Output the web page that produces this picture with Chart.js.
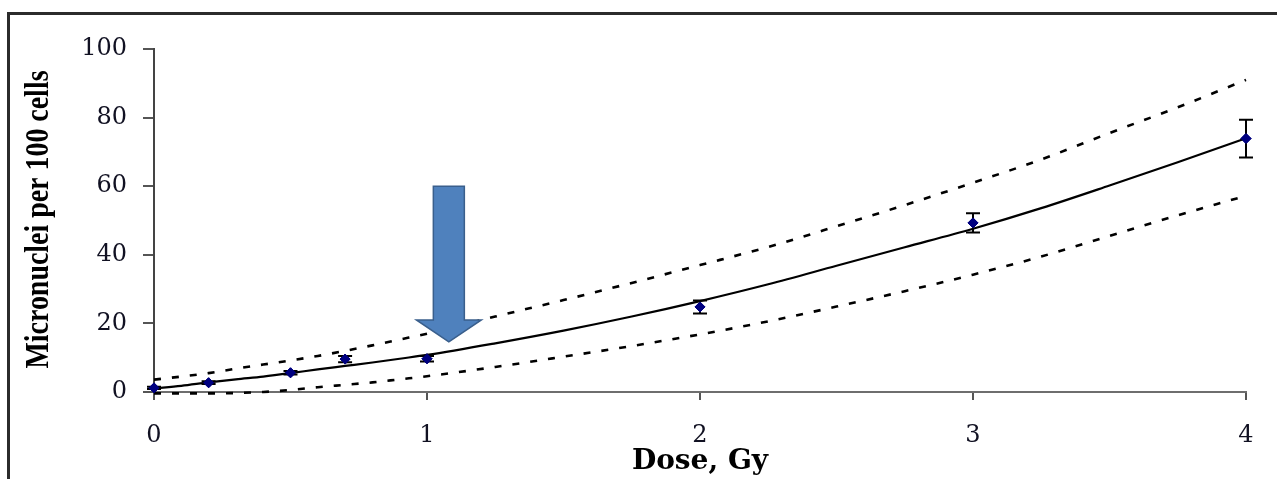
<!DOCTYPE html>
<html>
<head>
<meta charset="utf-8">
<script src="https://cdn.jsdelivr.net/npm/chart.js@4/dist/chart.umd.min.js"></script>
<style>
  html, body { margin: 0; padding: 0; background: #fff; }
  #wrap { width: 1277px; height: 479px; position: relative; }
</style>
</head>
<body>
<div id="wrap"><canvas id="c" width="1277" height="479"></canvas></div>
<script>
// Observed micronucleus yields (mean ± error) at each dose
const doses = [0, 0.2, 0.5, 0.7, 1, 2, 3, 4];
const yields = [1.2, 2.7, 5.6, 9.6, 9.7, 24.8, 49.3, 73.9];
const yieldErr = [0.3, 0.4, 0.5, 0.9, 0.8, 1.9, 2.8, 5.5];

// Fitted dose-response curve and its confidence band
const curveDose = [0, 0.1, 0.2, 0.3, 0.4, 0.5, 0.6, 0.7, 0.8, 0.9, 1.0, 1.25, 1.5, 1.75, 2.0, 2.25, 2.5, 2.75, 3.0, 3.25, 3.5, 3.75, 4.0];
const fitValues = [1.0, 1.8, 2.8, 3.7, 4.5, 5.5, 6.6, 7.6, 8.6, 9.7, 10.8, 14.2, 17.9, 22.0, 26.5, 31.4, 36.8, 42.2, 47.6, 53.6, 60.2, 67.0, 74.0];
const upperValues = [3.6, 4.5, 5.5, 6.8, 8.0, 9.2, 10.5, 12.0, 13.6, 15.3, 17.0, 22.0, 26.8, 31.8, 37.0, 42.3, 48.3, 54.5, 61.0, 67.8, 75.5, 83.0, 91.0];
const lowerValues = [-0.4, -0.4, -0.4, -0.3, 0.0, 0.6, 1.4, 2.1, 2.8, 3.7, 4.6, 7.3, 10.3, 13.4, 16.8, 20.6, 24.9, 29.4, 34.2, 39.5, 45.5, 51.5, 57.2];

// Axis ticks and titles
const xTicks = [0, 1, 2, 3, 4];
const yTicks = [0, 20, 40, 60, 80, 100];
const xTitle = 'Dose, Gy';
const yTitle = 'Micronuclei per 100 cells';

// Arrow marking the dose of interest
const arrowDose = 1.08;
const arrowTop = 60;
const arrowTip = 14.6;

const pts = (xs, ys) => xs.map((x, i) => ({ x: x, y: ys[i] }));

const framePlugin = {
  id: 'frame',
  beforeDraw(chart) {
    const ctx = chart.ctx;
    ctx.save();
    ctx.strokeStyle = '#2b2b2b';
    ctx.lineWidth = 3;
    ctx.beginPath();
    ctx.moveTo(8.5, 479);
    ctx.lineTo(8.5, 13.5);
    ctx.lineTo(1277, 13.5);
    ctx.stroke();
    ctx.restore();
  }
};

// Tall, narrow bold title along the value axis
const yTitlePlugin = {
  id: 'yTitle',
  afterDraw(chart) {
    const ctx = chart.ctx;
    const area = chart.chartArea;
    ctx.save();
    ctx.font = 'bold 33px "Liberation Serif"';
    const w = ctx.measureText(yTitle).width;
    const squeeze = 298 / w;
    ctx.translate(48, (area.top + area.bottom) / 2 - 1);
    ctx.rotate(-Math.PI / 2);
    ctx.scale(squeeze, 1);
    ctx.fillStyle = '#000';
    ctx.textAlign = 'center';
    ctx.textBaseline = 'alphabetic';
    ctx.fillText(yTitle, 0, 0);
    ctx.restore();
  }
};

const errorBarPlugin = {
  id: 'errorBars',
  afterDatasetsDraw(chart) {
    const ctx = chart.ctx;
    const xs = chart.scales.x, ys = chart.scales.y;
    ctx.save();
    ctx.strokeStyle = '#000';
    ctx.lineWidth = 2;
    doses.forEach((d, i) => {
      const px = xs.getPixelForValue(d);
      const top = ys.getPixelForValue(yields[i] + yieldErr[i]);
      const bot = ys.getPixelForValue(yields[i] - yieldErr[i]);
      ctx.beginPath();
      ctx.moveTo(px, top); ctx.lineTo(px, bot);
      ctx.moveTo(px - 7, top); ctx.lineTo(px + 7, top);
      ctx.moveTo(px - 7, bot); ctx.lineTo(px + 7, bot);
      ctx.stroke();
    });
    // markers go back on top of the bars
    const meta = chart.getDatasetMeta(3);
    meta.data.forEach(el => el.draw(ctx));
    ctx.restore();
  }
};

const arrowPlugin = {
  id: 'arrow',
  afterDraw(chart) {
    const ctx = chart.ctx;
    const xs = chart.scales.x, ys = chart.scales.y;
    const cx = xs.getPixelForValue(arrowDose);
    const yTop = ys.getPixelForValue(arrowTop);
    const yTip = ys.getPixelForValue(arrowTip);
    const shaftHalf = 15.5, headHalf = 32.5, headLen = 22;
    const yHead = yTip - headLen;
    ctx.save();
    ctx.beginPath();
    ctx.moveTo(cx - shaftHalf, yTop);
    ctx.lineTo(cx + shaftHalf, yTop);
    ctx.lineTo(cx + shaftHalf, yHead);
    ctx.lineTo(cx + headHalf, yHead);
    ctx.lineTo(cx, yTip);
    ctx.lineTo(cx - headHalf, yHead);
    ctx.lineTo(cx - shaftHalf, yHead);
    ctx.closePath();
    ctx.fillStyle = '#4f81bd';
    ctx.fill();
    ctx.strokeStyle = '#3a5f8c';
    ctx.lineWidth = 1.5;
    ctx.stroke();
    ctx.restore();
  }
};

const dashed = [7, 11];

new Chart(document.getElementById('c'), {
  type: 'scatter',
  data: {
    datasets: [
      {
        label: 'Fit',
        data: pts(curveDose, fitValues),
        showLine: true,
        borderColor: '#000',
        borderWidth: 2.2,
        pointRadius: 0,
        cubicInterpolationMode: 'monotone',
        clip: false
      },
      {
        label: 'Upper',
        data: pts(curveDose, upperValues),
        showLine: true,
        borderColor: '#000',
        borderWidth: 2.6,
        borderDash: dashed,
        pointRadius: 0,
        cubicInterpolationMode: 'monotone',
        clip: false
      },
      {
        label: 'Lower',
        data: pts(curveDose, lowerValues),
        showLine: true,
        borderColor: '#000',
        borderWidth: 2.6,
        borderDash: dashed,
        pointRadius: 0,
        cubicInterpolationMode: 'monotone',
        clip: false
      },
      {
        label: 'Observed',
        data: pts(doses, yields),
        showLine: false,
        pointStyle: 'rectRot',
        pointRadius: 5,
        backgroundColor: '#000080',
        borderColor: '#000080',
        borderWidth: 1,
        clip: false
      }
    ]
  },
  options: {
    responsive: false,
    animation: false,
    events: [],
    layout: { padding: { left: 8, top: 49, right: 31, bottom: 0 } },
    plugins: {
      legend: { display: false },
      tooltip: { enabled: false }
    },
    scales: {
      x: {
        type: 'linear',
        min: 0,
        max: 4,
        afterFit(scale) { scale.height = 87; },
        afterBuildTicks(scale) { scale.ticks = xTicks.map(v => ({ value: v })); },
        grid: { drawOnChartArea: false, drawTicks: true, tickLength: 8, color: '#555', lineWidth: 2 },
        border: { display: true, color: '#6e6e6e', width: 2 },
        ticks: {
          padding: 21,
          color: '#111122',
          font: { family: 'DejaVu Serif', size: 24 },
          maxRotation: 0
        },
        title: {
          display: true,
          text: xTitle,
          color: '#000',
          padding: 0,
          font: { family: 'DejaVu Serif', size: 28, weight: 'bold' }
        }
      },
      y: {
        type: 'linear',
        min: 0,
        max: 100,
        afterFit(scale) { scale.width = 146; },
        afterBuildTicks(scale) { scale.ticks = yTicks.map(v => ({ value: v })); },
        grid: { drawOnChartArea: false, drawTicks: true, tickLength: 11, color: '#555', lineWidth: 2 },
        border: { display: true, color: '#444', width: 2 },
        ticks: {
          padding: 16,
          color: '#111122',
          font: { family: 'DejaVu Serif', size: 24 }
        },
        title: { display: false }
      }
    }
  },
  plugins: [framePlugin, errorBarPlugin, arrowPlugin, yTitlePlugin]
});
</script>
</body>
</html>
